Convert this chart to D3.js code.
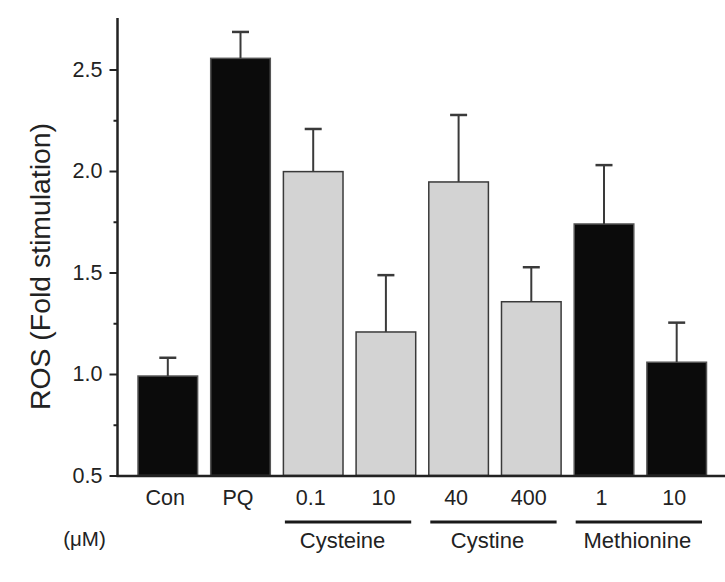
<!DOCTYPE html>
<html>
<head>
<meta charset="utf-8">
<script src="https://cdn.jsdelivr.net/npm/d3@7"></script>
<style>
  html, body { margin: 0; padding: 0; background: #ffffff; }
  svg { display: block; }
  text { font-family: "Liberation Sans", Arial, sans-serif; fill: #222; }
</style>
</head>
<body>
<svg id="chart" width="725" height="582"></svg>
<script>
// ---- data ----
const categories = ["Con", "PQ", "Cys0.1", "Cys10", "Cyst40", "Cyst400", "Met1", "Met10"];
const doseLabels = ["Con", "PQ", "0.1", "10", "40", "400", "1", "10"];
const means = [0.99, 2.555, 1.997, 1.207, 1.946, 1.356, 1.739, 1.058];
const errors = [0.09, 0.13, 0.21, 0.28, 0.33, 0.17, 0.29, 0.195];
const barKind = ["dark", "dark", "light", "light", "light", "light", "dark", "dark"];
const groupNames = ["Cysteine", "Cystine", "Methionine"];
const groupMembers = [["Cys0.1", "Cys10"], ["Cyst40", "Cyst400"], ["Met1", "Met10"]];
const yTicks = [0.5, 1.0, 1.5, 2.0, 2.5];
const yMinorTicks = [0.75, 1.25, 1.75, 2.25];
const yLabel = "ROS (Fold stimulation)";
const unitLabel = "(\u03bcM)";

// ---- layout ----
const svg = d3.select("#chart");
const axisX = 117.5, baseY = 476;
const y = d3.scaleLinear().domain([0.5, 2.5]).range([475.5, 69.5]);
const x = d3.scaleBand().domain(categories).range([138, 706.5]).paddingInner(0.18).paddingOuter(0);

// bars
svg.selectAll("rect.bar").data(categories).enter().append("rect")
  .attr("class", "bar")
  .attr("x", d => x(d))
  .attr("width", x.bandwidth())
  .attr("y", (d, i) => y(means[i]))
  .attr("height", (d, i) => y(0.5) - y(means[i]))
  .attr("fill", (d, i) => barKind[i] === "dark" ? "#0b0b0b" : "#d3d3d3")
  .attr("stroke", (d, i) => barKind[i] === "dark" ? "#555" : "#3a3a3a")
  .attr("stroke-width", 1.5);

// error bars (upper only)
const capW = 17;
categories.forEach((c, i) => {
  const cx = x(c) + x.bandwidth() / 2;
  svg.append("line")
    .attr("x1", cx).attr("x2", cx)
    .attr("y1", y(means[i])).attr("y2", y(means[i] + errors[i]))
    .attr("stroke", "#3a3a3a").attr("stroke-width", 2);
  svg.append("line")
    .attr("x1", cx - capW / 2).attr("x2", cx + capW / 2)
    .attr("y1", y(means[i] + errors[i])).attr("y2", y(means[i] + errors[i]))
    .attr("stroke", "#3a3a3a").attr("stroke-width", 2.5);
});

// y axis
const yAxis = d3.axisLeft(y).tickValues(yTicks).tickFormat(d3.format(".1f")).tickSize(8).tickPadding(7);
const gy = svg.append("g").attr("transform", `translate(${axisX},0)`).call(yAxis);
gy.select(".domain").remove();
gy.selectAll(".tick line").attr("stroke", "#222").attr("stroke-width", 2);
gy.selectAll(".tick text").attr("font-size", 21.5).attr("fill", "#333")
  .style("font-family", "'Liberation Sans', Arial, sans-serif");
const gyMinor = svg.append("g").attr("transform", `translate(${axisX},0)`)
  .call(d3.axisLeft(y).tickValues(yMinorTicks).tickSize(4).tickFormat(""));
gyMinor.select(".domain").remove();
gyMinor.selectAll(".tick line").attr("stroke", "#222").attr("stroke-width", 2);

svg.append("line").attr("x1", axisX).attr("x2", axisX).attr("y1", 18).attr("y2", baseY + 1)
  .attr("stroke", "#222").attr("stroke-width", 2.5);
svg.append("line").attr("x1", axisX - 1).attr("x2", 725).attr("y1", baseY).attr("y2", baseY)
  .attr("stroke", "#222").attr("stroke-width", 2.5);

// y label
svg.append("text")
  .attr("transform", `translate(50,266.5) rotate(-90)`)
  .attr("text-anchor", "middle")
  .attr("font-size", 28.4)
  .attr("fill", "#1a1a1a")
  .text(yLabel);

// dose labels
svg.selectAll("text.dose").data(categories).enter().append("text")
  .attr("class", "dose")
  .attr("x", d => x(d) + x.bandwidth() / 2 - 2.5)
  .attr("y", 505)
  .attr("text-anchor", "middle")
  .attr("font-size", 21.5)
  .attr("fill", "#333")
  .text((d, i) => doseLabels[i]);

// group underlines and names
const nameShift = [-5.5, -6, -1.5];
groupNames.forEach((g, k) => {
  const m = groupMembers[k];
  const x1 = x(m[0]) + 1.5;
  const x2 = x(m[m.length - 1]) + x.bandwidth() - 4.5;
  svg.append("line").attr("x1", x1).attr("x2", x2).attr("y1", 522).attr("y2", 522)
    .attr("stroke", "#1a1a1a").attr("stroke-width", 3);
  svg.append("text")
    .attr("x", (x1 + x2) / 2 + nameShift[k])
    .attr("y", 548)
    .attr("text-anchor", "middle")
    .attr("font-size", 22)
    .attr("fill", "#333")
    .text(g);
});

svg.append("text")
  .attr("x", 84.5).attr("y", 546)
  .attr("text-anchor", "middle")
  .attr("font-size", 20.5)
  .attr("fill", "#333")
  .text(unitLabel);
</script>
</body>
</html>
